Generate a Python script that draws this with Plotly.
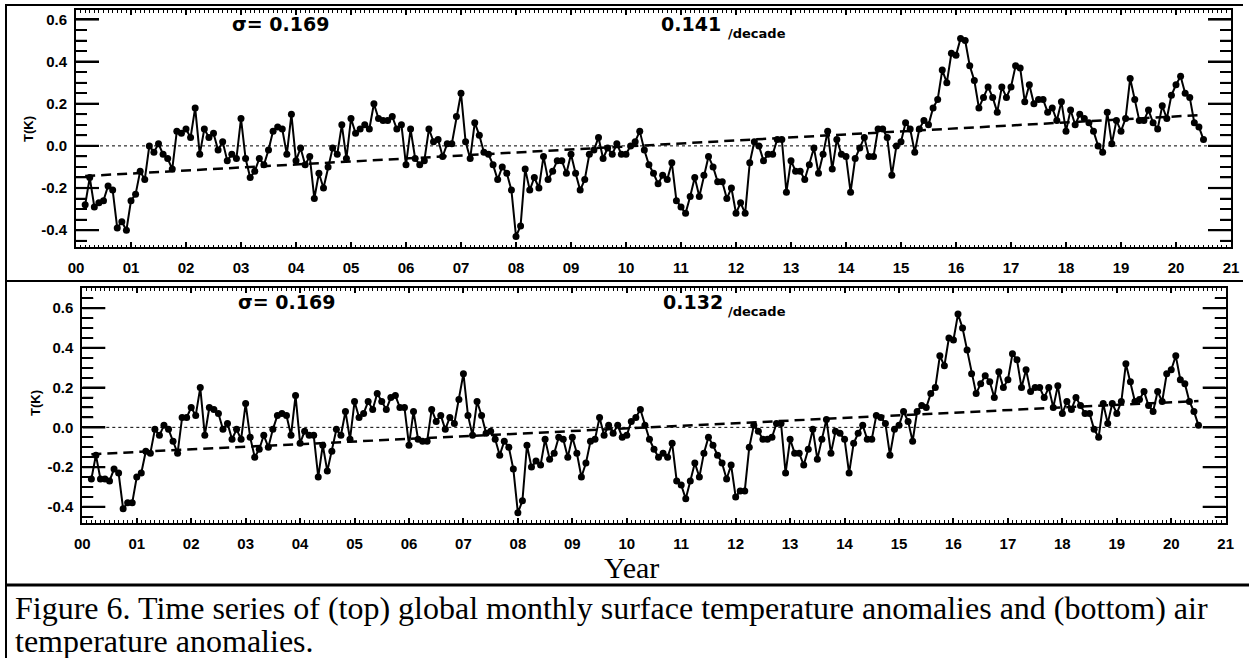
import numpy as np
import plotly.graph_objects as go

# ---------------- data (monthly anomalies, Mar 2000 .. Jul 2020) ----------------
first_year = 2000
first_month = 3

surface_anom = [
    # 2000 (Mar-Dec)
    -0.28, -0.15, -0.29, -0.27, -0.26, -0.19, -0.21, -0.39, -0.36, -0.40,
    # 2001
    -0.26, -0.23, -0.12, -0.16, 0.00, -0.03, 0.01, -0.04, -0.06, -0.11, 0.07, 0.06,
    # 2002
    0.08, 0.04, 0.18, -0.04, 0.08, 0.04, 0.06, -0.02, 0.02, -0.07, -0.04, -0.06,
    # 2003
    0.13, -0.06, -0.15, -0.12, -0.06, -0.09, -0.02, 0.07, 0.09, 0.08, -0.04, 0.15,
    # 2004
    -0.07, -0.01, -0.09, -0.05, -0.25, -0.13, -0.20, -0.10, -0.01, -0.04, 0.10, -0.06,
    # 2005
    0.13, 0.06, 0.08, 0.10, 0.08, 0.20, 0.13, 0.12, 0.12, 0.14, 0.08, 0.10,
    # 2006
    -0.09, 0.08, -0.06, -0.09, -0.07, 0.08, 0.02, 0.03, -0.05, 0.01, 0.01, 0.14,
    # 2007
    0.25, 0.02, -0.06, 0.11, 0.05, -0.03, -0.04, -0.09, -0.16, -0.10, -0.13, -0.21,
    # 2008
    -0.43, -0.38, -0.11, -0.21, -0.15, -0.20, -0.05, -0.16, -0.12, -0.07, -0.07, -0.13,
    # 2009
    -0.04, -0.13, -0.21, -0.16, -0.04, -0.02, 0.04, -0.06, -0.01, -0.04, 0.01, -0.04,
    # 2010
    -0.04, 0.00, 0.02, 0.07, -0.02, -0.09, -0.13, -0.18, -0.14, -0.16, -0.08, -0.26,
    # 2011
    -0.29, -0.32, -0.24, -0.15, -0.24, -0.14, -0.05, -0.10, -0.17, -0.17, -0.25, -0.20,
    # 2012
    -0.32, -0.27, -0.32, -0.08, 0.02, 0.00, -0.07, -0.04, -0.04, 0.03, 0.03, -0.22,
    # 2013
    -0.07, -0.12, -0.12, -0.16, -0.09, -0.01, -0.13, -0.04, 0.07, -0.11, 0.03, -0.04,
    # 2014
    -0.05, -0.22, -0.06, -0.01, 0.04, -0.05, -0.05, 0.08, 0.08, 0.04, -0.14, 0.00,
    # 2015
    0.02, 0.11, 0.08, -0.03, 0.08, 0.12, 0.10, 0.18, 0.22, 0.36, 0.30, 0.44,
    # 2016
    0.43, 0.51, 0.50, 0.38, 0.31, 0.18, 0.23, 0.28, 0.23, 0.16, 0.28, 0.23,
    # 2017
    0.28, 0.38, 0.37, 0.21, 0.29, 0.20, 0.22, 0.22, 0.16, 0.18, 0.12, 0.21,
    # 2018
    0.07, 0.17, 0.10, 0.15, 0.13, 0.11, 0.07, 0.00, -0.03, 0.16, 0.01, 0.12,
    # 2019
    0.07, 0.13, 0.32, 0.22, 0.12, 0.12, 0.17, 0.11, 0.08, 0.19, 0.13, 0.24,
    # 2020 (Jan-Jul)
    0.29, 0.33, 0.25, 0.23, 0.11, 0.09, 0.03,
]

air_anom = [
    # 2000 (Mar-Dec)
    -0.26, -0.14, -0.26, -0.26, -0.27, -0.21, -0.23, -0.41, -0.38, -0.38,
    # 2001
    -0.25, -0.23, -0.12, -0.13, -0.01, -0.04, 0.01, -0.01, -0.07, -0.13, 0.05, 0.05,
    # 2002
    0.10, 0.06, 0.20, -0.04, 0.10, 0.09, 0.07, -0.01, 0.02, -0.06, -0.01, -0.06,
    # 2003
    0.12, -0.05, -0.15, -0.11, -0.04, -0.10, -0.01, 0.06, 0.07, 0.06, -0.04, 0.16,
    # 2004
    -0.08, -0.02, -0.04, -0.04, -0.25, -0.09, -0.22, -0.12, -0.01, -0.04, 0.08, -0.06,
    # 2005
    0.13, 0.05, 0.07, 0.13, 0.09, 0.17, 0.13, 0.09, 0.15, 0.16, 0.10, 0.10,
    # 2006
    -0.09, 0.08, -0.06, -0.07, -0.07, 0.09, 0.03, 0.06, -0.01, 0.05, 0.02, 0.14,
    # 2007
    0.27, 0.06, -0.04, 0.13, 0.06, -0.03, -0.02, -0.06, -0.14, -0.07, -0.10, -0.21,
    # 2008
    -0.43, -0.37, -0.09, -0.20, -0.17, -0.19, -0.06, -0.16, -0.13, -0.05, -0.06, -0.15,
    # 2009
    -0.05, -0.13, -0.25, -0.18, -0.07, -0.06, 0.05, -0.04, 0.01, -0.03, 0.01, -0.05,
    # 2010
    -0.04, 0.03, 0.05, 0.09, 0.01, -0.06, -0.11, -0.15, -0.13, -0.15, -0.08, -0.27,
    # 2011
    -0.29, -0.36, -0.27, -0.18, -0.25, -0.13, -0.05, -0.09, -0.14, -0.18, -0.26, -0.19,
    # 2012
    -0.35, -0.32, -0.32, -0.10, 0.01, -0.02, -0.06, -0.06, -0.05, 0.02, 0.02, -0.23,
    # 2013
    -0.06, -0.13, -0.13, -0.19, -0.11, -0.01, -0.16, -0.06, 0.04, -0.13, -0.02, -0.03,
    # 2014
    -0.06, -0.23, -0.08, -0.03, 0.01, -0.06, -0.06, 0.06, 0.05, 0.02, -0.14, -0.01,
    # 2015
    0.01, 0.08, 0.03, -0.07, 0.08, 0.11, 0.10, 0.17, 0.20, 0.36, 0.31, 0.45,
    # 2016
    0.44, 0.57, 0.50, 0.39, 0.27, 0.17, 0.22, 0.26, 0.23, 0.15, 0.28, 0.20,
    # 2017
    0.24, 0.37, 0.34, 0.20, 0.29, 0.18, 0.20, 0.20, 0.15, 0.20, 0.10, 0.21,
    # 2018
    0.07, 0.13, 0.09, 0.15, 0.11, 0.07, 0.07, -0.01, -0.05, 0.12, 0.02, 0.12,
    # 2019
    0.07, 0.13, 0.32, 0.23, 0.13, 0.14, 0.18, 0.11, 0.08, 0.18, 0.13, 0.27,
    # 2020 (Jan-Jul)
    0.29, 0.36, 0.24, 0.22, 0.13, 0.08, 0.01,
]

# linear-trend end values (start / end of record)
surface_trend = [-0.143, 0.147]
air_trend = [-0.135, 0.133]

surface_sigma = "σ= 0.169"
air_sigma = "σ= 0.169"
surface_rate = "0.141"
air_rate = "0.132"

year_ticks = list(range(2000, 2022))
year_labels = [f"{y % 100:02d}" for y in year_ticks]
t_ticks = [-0.4, -0.2, 0.0, 0.2, 0.4, 0.6]
t_labels = ["-0.4", "-0.2", "0.0", "0.2", "0.4", "0.6"]
t_minor = [-0.45, -0.35, -0.3, -0.25, -0.15, -0.1, -0.05, 0.05, 0.1, 0.15,
           0.25, 0.3, 0.35, 0.45, 0.5, 0.55, 0.65]

caption_line1 = "Figure 6. Time series of (top) global monthly surface temperature anomalies and (bottom) air"
caption_line2 = "temperature anomalies."

# ---------------- build ----------------
W, H = 1249, 658
X0, X1 = 2000, 2021


def px(x):
    return x / W


def py(y):
    return 1 - y / H


def month_axis(n):
    idx = np.arange(n) + (first_month - 1)
    return first_year + idx / 12.0


t_surf = month_axis(len(surface_anom))
t_air = month_axis(len(air_anom))

fig = go.Figure()

panels = [
    dict(x=t_surf, y=surface_anom, trend=surface_trend, xa="x", ya="y",
         left=76, right=1231, top=10, bot=247, rng=[-0.48, 0.645]),
    dict(x=t_air, y=air_anom, trend=air_trend, xa="x2", ya="y2",
         left=82.3, right=1225.7, top=288.3, bot=522.7, rng=[-0.48, 0.70]),
]

for p in panels:
    fig.add_trace(go.Scatter(x=[X0, X1], y=[0, 0], mode="lines",
                             line=dict(color="black", width=1, dash="3px,3px"),
                             xaxis=p["xa"], yaxis=p["ya"], showlegend=False, hoverinfo="skip"))

    # inside y ticks on both sides (major 23 px, minor 11 px), one segment per trace
    units_per_px = (X1 - X0) / (p["right"] - p["left"])
    for vals, length, w in ((t_ticks, 23, 2.2), (t_minor, 11, 1.6)):
        d = float(length * units_per_px)
        for v in vals:
            if not (p["rng"][0] < v < p["rng"][1]):
                continue
            for xs in ([float(X0), X0 + d], [X1 - d, float(X1)]):
                fig.add_trace(go.Scatter(x=xs, y=[float(v), float(v)], mode="lines",
                                         line=dict(color="black", width=w),
                                         xaxis=p["xa"], yaxis=p["ya"], showlegend=False,
                                         hoverinfo="skip"))

    fig.add_trace(go.Scatter(x=[float(p["x"][0]), float(p["x"][-1])], y=p["trend"], mode="lines",
                             line=dict(color="black", width=2.5, dash="10px,6px"),
                             xaxis=p["xa"], yaxis=p["ya"], showlegend=False, hoverinfo="skip"))
    fig.add_trace(go.Scatter(x=p["x"], y=p["y"], mode="lines+markers",
                             line=dict(color="black", width=2),
                             marker=dict(color="black", size=7, symbol="circle"),
                             xaxis=p["xa"], yaxis=p["ya"], showlegend=False))

tickfont = dict(family="Liberation Sans", size=15, color="black", weight="bold")


def xaxis_cfg(x0, x1, anchor):
    return dict(domain=[px(x0), px(x1)], range=[X0, X1], anchor=anchor, type="linear",
                tickmode="array", tickvals=year_ticks, ticktext=year_labels,
                ticks="inside", ticklen=5, tickwidth=1.5, tickcolor="black",
                minor=dict(tick0=2000, dtick=1 / 12, ticks="inside", ticklen=2.5,
                           tickwidth=1, tickcolor="black", showgrid=False),
                showline=True, linewidth=2, linecolor="black", mirror="allticks",
                showgrid=False, zeroline=False, tickfont=tickfont,
                ticklabelstandoff=6, automargin=False)


def yaxis_cfg(y_top, y_bot, rng, anchor):
    return dict(domain=[py(y_bot), py(y_top)], range=rng, anchor=anchor, type="linear",
                tickmode="array", tickvals=t_ticks, ticktext=t_labels,
                ticks="inside", ticklen=23, tickwidth=2, tickcolor="black",
                minor=dict(tick0=0, dtick=0.05, ticks="inside", ticklen=11,
                           tickwidth=1.5, tickcolor="black", showgrid=False),
                showline=True, linewidth=2, linecolor="black", mirror="allticks",
                showgrid=False, zeroline=False, tickfont=tickfont,
                ticklabelstandoff=4, automargin=False)


fig.update_layout(
    width=W, height=H,
    margin=dict(l=0, r=0, t=0, b=0),
    paper_bgcolor="white", plot_bgcolor="white",
    xaxis=xaxis_cfg(panels[0]["left"], panels[0]["right"], "y"),
    yaxis=yaxis_cfg(panels[0]["top"], panels[0]["bot"], panels[0]["rng"], "x"),
    xaxis2=xaxis_cfg(panels[1]["left"], panels[1]["right"], "y2"),
    yaxis2=yaxis_cfg(panels[1]["top"], panels[1]["bot"], panels[1]["rng"], "x2"),
)

big = dict(family="DejaVu Sans", size=19, color="black", weight="bold")
small = dict(family="DejaVu Sans", size=13, color="black", weight="bold")
lab = dict(family="Liberation Sans", size=13, color="black", weight="bold")
serif_cap = dict(family="Liberation Serif", size=32, color="black")
serif_year = dict(family="Liberation Serif", size=30, color="black")

ann = [
    (surface_sigma, 230, 24, big, "left", 0),
    (surface_rate, 659, 24, big, "left", 0),
    ("/decade", 726, 34, small, "left", 0),
    (air_sigma, 236, 302, big, "left", 0),
    (air_rate, 660.7, 302, big, "left", 0),
    ("/decade", 726, 311, small, "left", 0),
    ("T(K)", 28, 129, lab, "center", -90),
    ("T(K)", 35, 403, lab, "center", -90),
    ("Year", 631, 567, serif_year, "center", 0),
    (caption_line1, 13, 608, serif_cap, "left", 0),
    (caption_line2, 13, 641, serif_cap, "left", 0),
]
for text, x, y, f, xa, ang in ann:
    fig.add_annotation(text=text, x=px(x), y=py(y), xref="paper", yref="paper",
                       xanchor=xa, yanchor="middle", showarrow=False, font=f,
                       textangle=ang)

# frame lines of the figure box
frame = [
    (5, 5, 1243, 5, 2),
    (6, 5, 6, 658, 2),
    (5, 281, 1243, 281, 2),
    (5, 585, 1249, 585, 3),
]
for x0, y0, x1, y1, w in frame:
    fig.add_shape(type="line", xref="paper", yref="paper",
                  x0=px(x0), y0=py(y0), x1=px(x1), y1=py(y1),
                  line=dict(color="black", width=w))

fig.write_html("out.html")
